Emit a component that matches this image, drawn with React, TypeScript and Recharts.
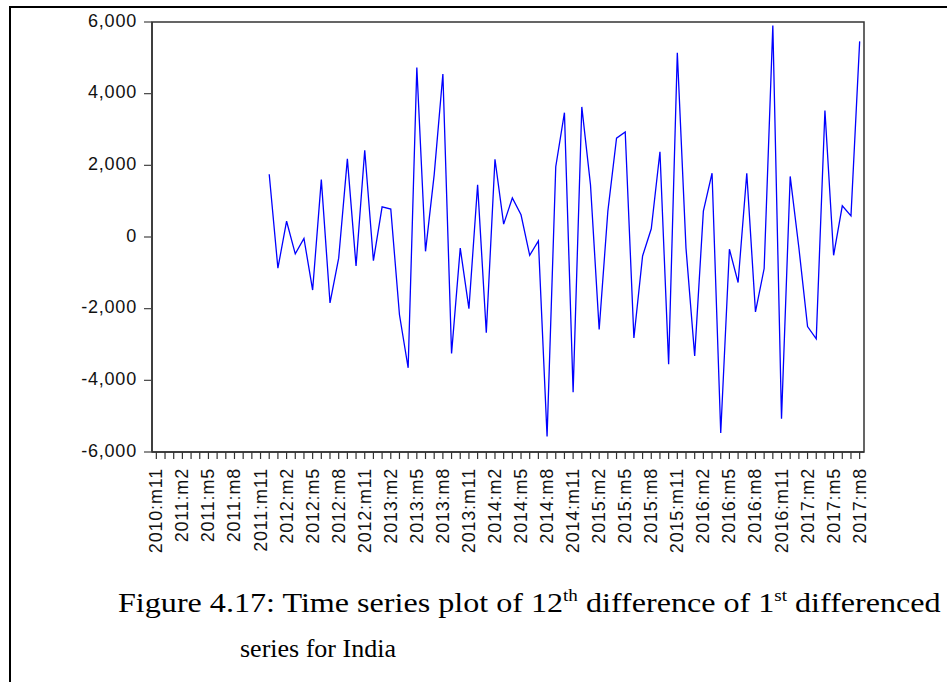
import { LineChart, Line, XAxis, YAxis, ReferenceArea } from "recharts";

// monthly axis 2010:m11 .. 2017:m8
const START_YEAR = 2010;
const START_MONTH = 11;
const N_MONTHS = 82;
const FIRST_OBS = 13; // 2011:m12, first non-missing value

const months = Array.from({ length: N_MONTHS }, (_, i) => {
  const m = START_MONTH - 1 + i;
  return `${START_YEAR + Math.floor(m / 12)}:m${(m % 12) + 1}`;
});

// 12th difference of 1st differenced series, 2011:m12 .. 2017:m8
const values = [
  1750, -870, 440, -470, -40, -1480, 1600, -1840, -590, 2180, -810, 2420, -660, 840, 780, -2170, -3650,
  4730, -400, 1740, 4550, -3250, -310, -2000, 1460, -2670, 2170, 360, 1090, 620, -510, -110, -5570, 1960,
  3470, -4330, 3630, 1460, -2580, 720, 2760, 2930, -2820, -530, 230, 2380, -3550, 5140, -310, -3320, 720,
  1780, -5470, -340, -1270, 1780, -2090, -880, 5900, -5070, 1690, -300, -2500, -2840, 3530, -510, 870, 590, 5460,
];

const yTicks = [6000, 4000, 2000, 0, -2000, -4000, -6000];

const data = months.map((label, i) => ({
  i,
  label,
  v: i >= FIRST_OBS ? values[i - FIRST_OBS] : null,
}));

const PLOT_TOP = 22;
const PLOT_BOTTOM = 452;
const AXIS_FONT = "'Liberation Sans', Arial, sans-serif";

const XTick = (props: any) => {
  const { x, payload } = props;
  const idx = payload.value as number;
  if (idx % 3 !== 0) return <g />;
  const ty = PLOT_BOTTOM + 16;
  return (
    <text
      x={x}
      y={ty}
      transform={`rotate(-90 ${x} ${ty})`}
      textAnchor="end"
      dominantBaseline="central"
      fontSize={18}
      letterSpacing={0.8}
      fontFamily={AXIS_FONT}
      fill="#111"
    >
      {months[idx]}
    </text>
  );
};

const YTick = (props: any) => {
  const { x, y, payload } = props;
  return (
    <text
      x={x - 5}
      y={y + 4.5}
      textAnchor="end"
      fontSize={18}
      letterSpacing={0.8}
      fontFamily={AXIS_FONT}
      fill="#111"
    >
      {(payload.value as number).toLocaleString("en-US")}
    </text>
  );
};

export default function App() {
  return (
    <div
      style={{
        position: "fixed",
        left: 0,
        top: 0,
        width: 947,
        height: 682,
        overflow: "hidden",
        background: "#fff",
      }}
    >
      {/* page frame */}
      <div
        style={{
          position: "absolute",
          left: 9,
          top: 6,
          width: 1000,
          height: 720,
          borderTop: "2px solid #000",
          borderLeft: "2px solid #000",
        }}
      />
      <div style={{ position: "absolute", left: 0, top: 0 }}>
        <LineChart
          width={947}
          height={560}
          data={data}
          margin={{ top: PLOT_TOP, right: 83, left: 0, bottom: 0 }}
        >
          <XAxis
            dataKey="i"
            type="number"
            domain={[-0.5, N_MONTHS - 0.5]}
            ticks={months.map((_, i) => i)}
            interval={0}
            height={560 - PLOT_BOTTOM}
            tick={<XTick />}
            tickSize={7}
            tickLine={{ stroke: "#333", strokeWidth: 1.2 }}
            axisLine={{ stroke: "#333", strokeWidth: 1.5 }}
            allowDataOverflow
          />
          <YAxis
            type="number"
            domain={[-6000, 6000]}
            ticks={yTicks}
            interval={0}
            width={152}
            tick={<YTick />}
            tickSize={8}
            tickLine={{ stroke: "#444", strokeWidth: 1.2 }}
            axisLine={{ stroke: "#333", strokeWidth: 1.5 }}
            allowDataOverflow
          />
          <ReferenceArea
            x1={-0.5}
            x2={N_MONTHS - 0.5}
            y1={-6000}
            y2={6000}
            fill="none"
            stroke="#333"
            strokeWidth={1.5}
            ifOverflow="visible"
          />
          <Line
            type="linear"
            dataKey="v"
            stroke="#0000ff"
            strokeWidth={1.3}
            dot={false}
            activeDot={false}
            connectNulls={false}
            isAnimationActive={false}
          />
        </LineChart>
      </div>
      <svg
        width={947}
        height={682}
        style={{ position: "absolute", left: 0, top: 0 }}
        fontFamily="'Liberation Serif', 'Times New Roman', serif"
        fill="#000"
      >
        <g transform="translate(118 612) scale(1.19 1)">
          <text x={0} y={0} fontSize={27}>
            Figure 4.17: Time series plot of 12
            <tspan fontSize={16} dy={-11}>th</tspan>
            <tspan dy={11}> difference of 1</tspan>
            <tspan fontSize={16} dy={-11}>st</tspan>
            <tspan dy={11}> differenced</tspan>
          </text>
        </g>
        <text x={240} y={657} fontSize={26}>
          series for India
        </text>
      </svg>
    </div>
  );
}
